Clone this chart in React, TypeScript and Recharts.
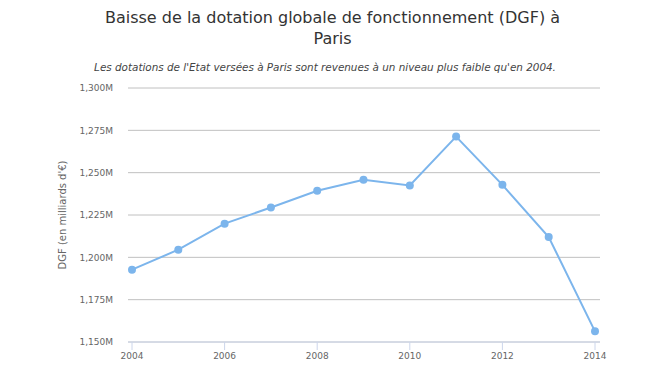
import React from "react";
import { LineChart, Line, XAxis, YAxis, CartesianGrid, Label } from "recharts";

const years = [2004, 2005, 2006, 2007, 2008, 2009, 2010, 2011, 2012, 2013, 2014];
const dgf = [1192.7, 1204.5, 1219.9, 1229.4, 1239.3, 1245.8, 1242.4, 1271.3, 1242.8, 1212.0, 1156.3];
const xTicks = [2004, 2006, 2008, 2010, 2012, 2014];
const yTicks = [1150, 1175, 1200, 1225, 1250, 1275, 1300];

const data = years.map((year, i) => ({ year, value: dgf[i] }));

const FONT = "'DejaVu Sans', sans-serif";

const fmtY = (v: number) => `${v.toLocaleString("en-US")}M`;

export default function App() {
  return (
    <div style={{ position: "absolute", left: 0, top: 0, width: 665, height: 370, background: "#fff", fontFamily: FONT }}>
      <div
        style={{
          position: "absolute",
          left: 0,
          top: 7,
          width: 665,
          textAlign: "center",
          fontSize: 16,
          lineHeight: "21px",
          color: "#333333",
        }}
      >
        Baisse de la dotation globale de fonctionnement (DGF) à
        <br />
        Paris
      </div>
      <div
        style={{
          position: "absolute",
          left: 0,
          top: 61,
          width: 650,
          textAlign: "center",
          fontSize: 10.4,
          fontStyle: "italic",
          color: "#444444",
        }}
      >
        Les dotations de l'Etat versées à Paris sont revenues à un niveau plus faible qu'en 2004.
      </div>
      <div style={{ position: "absolute", left: 0, top: 0 }}>
        <LineChart width={665} height={370} data={data} margin={{ top: 88, right: 65, bottom: 0, left: 0 }}>
          <CartesianGrid horizontal vertical={false} stroke="#c0c0c0" />
          <XAxis
            dataKey="year"
            type="number"
            domain={[2004, 2014]}
            ticks={xTicks}
            padding={{ left: 4, right: 5 }}
            height={28}
            stroke="#ccd6eb"
            tickSize={8}
            tickMargin={3}
            tick={{ fill: "#666666", fontSize: 9, fontFamily: FONT }}
          />
          <YAxis
            type="number"
            domain={[1150, 1300]}
            ticks={yTicks}
            width={128}
            axisLine={false}
            tickLine={false}
            tickSize={6}
            tickMargin={9}
            tickFormatter={fmtY}
            tick={{ fill: "#666666", fontSize: 9, fontFamily: FONT }}
          >
            <Label
              value="DGF (en milliards d'€)"
              angle={-90}
              position="insideLeft"
              offset={0}
              dx={62}
              style={{ fill: "#666666", fontSize: 10, fontFamily: FONT, textAnchor: "middle" }}
            />
          </YAxis>
          <Line
            dataKey="value"
            stroke="#7cb5ec"
            strokeWidth={2}
            dot={{ r: 4, fill: "#7cb5ec", stroke: "#7cb5ec", strokeWidth: 0 }}
            isAnimationActive={false}
          />
        </LineChart>
      </div>
    </div>
  );
}
